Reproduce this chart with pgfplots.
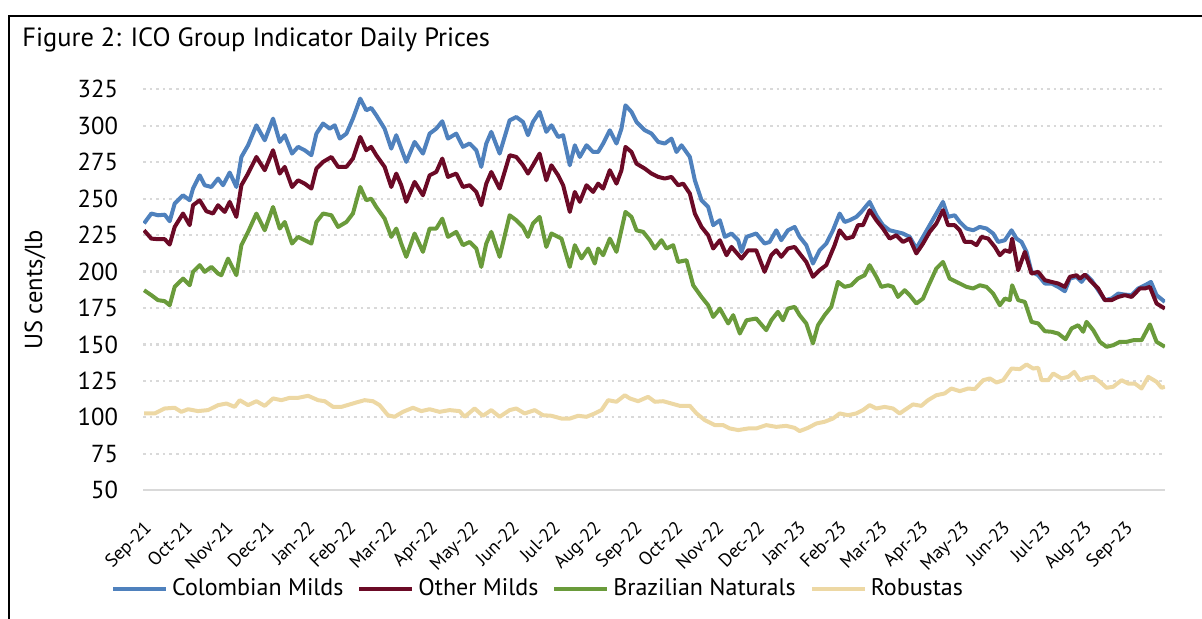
\documentclass[border=0pt]{standalone}
\usepackage{fontspec}
\setmainfont{PT Sans}
\usepackage{pgfplots}
\pgfplotsset{compat=1.18}
\definecolor{cmblue}{HTML}{4F81BD}
\definecolor{ommaroon}{HTML}{6B0A26}
\definecolor{bngreen}{HTML}{6A9B3B}
\definecolor{rbbeige}{HTML}{EDD8A4}
\definecolor{gridgray}{HTML}{D9D9D9}
\begin{document}
\begin{tikzpicture}
\path[use as bounding box] (0,0) rectangle (601pt,309.5pt);
\draw[line width=1pt] (4.5pt,0) -- (4.5pt,301.5pt) -- (601pt,301.5pt);
\node[anchor=base west, font=\fontsize{13.2}{15}\selectfont, inner sep=0pt] at (11pt,286pt) {Figure 2: ICO Group Indicator Daily Prices};
\begin{axis}[
  at={(71.5pt,64.35pt)}, anchor=south west,
  scale only axis, width=511pt, height=200.5pt,
  xmin=0, xmax=25, ymin=50, ymax=325,
  axis x line*=bottom, axis y line*=left,
  x axis line style={draw=gridgray, line width=1.1pt, -},
  y axis line style={draw=none},
  major tick length=0pt,
  xtick={0,...,24},
  xticklabels={Sep-21,Oct-21,Nov-21,Dec-21,Jan-22,Feb-22,Mar-22,Apr-22,May-22,Jun-22,Jul-22,Aug-22,Sep-22,Oct-22,Nov-22,Dec-22,Jan-23,Feb-23,Mar-23,Apr-23,May-23,Jun-23,Jul-23,Aug-23,Sep-23},
  ytick={50,75,...,325},
  ymajorgrids,
  major grid style={draw=gridgray, line width=1.1pt, dash pattern=on 1.3pt off 2pt},
  /pgf/number format/assume math mode=true,
  tick label style={font=\fontsize{12.3}{14}\selectfont},
  xticklabel style={xshift=0pt, yshift=-13pt, rotate=45, anchor=north east, inner sep=1pt, font=\fontsize{9.3}{10}\selectfont},
  yticklabel style={anchor=east, xshift=-9pt},
  ylabel={US cents/lb},
  every axis y label/.style={at={(axis description cs:-0.1057,0.5)}, rotate=90, anchor=center, font=\fontsize{12.3}{14}\selectfont},
  legend columns=4,
  legend style={at={(0.3875,-0.245)}, anchor=center, draw=none, fill=none,
    font=\fontsize{12}{14}\selectfont,
    /tikz/every even column/.append style={column sep=5pt}},
  legend image code/.code={\draw[#1, line width=2pt] (0pt,0pt) -- (26.5pt,0pt);},
  every axis plot/.append style={line width=2pt, line join=round},
]
\addplot[cmblue] coordinates {
(0.025,233) (0.204,239.8) (0.367,238.6) (0.531,239) (0.653,234.5) (0.775,246.6) (0.979,252.3) (1.142,248.9) (1.224,256.9) (1.387,266) (1.509,259.2) (1.672,258) (1.836,263.8) (1.958,259.2) (2.121,267.9) (2.284,258) (2.407,278.6) (2.57,286.6) (2.774,300.3) (2.978,290) (3.181,304.9) (3.345,288.9) (3.467,293.5) (3.646,280.9) (3.793,285.5) (3.956,283.2) (4.119,279.8) (4.242,294.6) (4.405,301.5) (4.568,298) (4.69,300.3) (4.813,291.2) (4.976,294.6)
(5.135,304.9) (5.314,318.6) (5.461,310.6) (5.583,312.2) (5.706,307.2) (5.91,298) (6.073,284.3) (6.195,293.5) (6.317,284.3) (6.44,275.2) (6.644,288.9) (6.848,280.9) (7.011,294.6) (7.174,298) (7.321,303.1) (7.459,291.2) (7.663,294.6) (7.826,285.5) (7.99,287.8) (8.153,283.2) (8.275,271.8) (8.397,287.8) (8.52,295.8) (8.724,280.9) (8.968,303.7) (9.131,306) (9.295,302.6) (9.417,293.5) (9.539,302.6) (9.702,309.5) (9.866,295.8)
(9.99,300.3) (10.155,292.3) (10.277,293.5) (10.44,272.9) (10.563,286.6) (10.685,278.6) (10.848,286.6) (11.011,282) (11.133,282) (11.256,287.8) (11.419,296.9) (11.582,287.8) (11.704,298) (11.802,314) (11.949,309.5) (12.072,302.6) (12.275,296.9) (12.439,294.6) (12.602,288.9) (12.765,287.8) (12.928,291.2) (13.05,282) (13.173,286.6) (13.377,278.6) (13.499,262.6) (13.662,248.9) (13.825,244.3) (13.948,231.8) (14.111,235.2) (14.233,223.8) (14.396,226.1) (14.559,221.5) (14.641,213.5) (14.763,223.8)
(15.0,226.1) (15.205,219.2) (15.328,220.3) (15.491,228.3) (15.613,221.5) (15.776,228.3) (15.94,230.6) (16.062,223.8) (16.225,218.1) (16.388,205.5) (16.551,214.6) (16.714,219.2) (16.878,228.3) (17.041,239.8) (17.163,234) (17.285,235.2) (17.449,237.5) (17.571,240.9) (17.775,247.8) (17.938,238.6) (18.101,231.8) (18.264,228.3) (18.427,227.2) (18.59,226.1) (18.754,223.8) (18.917,215.8) (19.08,223.8) (19.243,231.8) (19.406,239.8) (19.569,247.8) (19.692,237.5) (19.855,238.6)
(19.98,234) (20.144,229.5) (20.307,228.3) (20.47,230.6) (20.633,229.5) (20.796,226.1) (20.919,220.3) (21.082,221.5) (21.245,228.3) (21.367,222.6) (21.49,220.3) (21.612,213.5) (21.734,199.8) (21.898,197.5) (22.061,191.8) (22.224,191.8) (22.387,189.5) (22.55,186.5) (22.672,195.2) (22.836,196.4) (22.958,192.9) (23.08,197.5) (23.203,194.1) (23.366,187.2) (23.529,180.4) (23.692,181.5) (23.855,184.9) (24.018,184.2) (24.181,183.8) (24.345,188.4) (24.508,190.6) (24.655,192.9) (24.793,183.8) (24.997,179.2)
};
\addlegendentry{Colombian Milds}
\addplot[ommaroon] coordinates {
(0.025,228.3) (0.204,222.6) (0.367,222.2) (0.531,222.2) (0.653,218.5) (0.775,230.6) (0.979,239.8) (1.142,231.8) (1.224,245.5) (1.387,248.9) (1.55,241.4) (1.713,239.8) (1.836,245.5) (1.999,240.9) (2.121,247.8) (2.284,237.5) (2.407,259.2) (2.57,267.2) (2.774,278.6) (2.978,269.5) (3.181,283.2) (3.345,267.2) (3.467,271.8) (3.646,258) (3.793,262.6) (3.956,260.3) (4.119,256.9) (4.242,270.6) (4.405,275.2) (4.609,278.6) (4.772,271.8) (4.976,271.8)
(5.135,277.5) (5.314,292.3) (5.461,283.2) (5.583,285.5) (5.706,279.8) (5.91,271.8) (6.073,258) (6.195,267.2) (6.317,259.2) (6.44,247.8) (6.644,261.5) (6.848,252.3) (7.011,266) (7.174,268.3) (7.321,277.5) (7.459,264.9) (7.663,267.2) (7.826,258) (7.99,259.2) (8.153,254.6) (8.275,245.5) (8.397,260.3) (8.52,268.3) (8.724,256.9) (8.968,279.8) (9.131,278.6) (9.295,272.9) (9.417,267.2) (9.539,272.9) (9.702,280.9) (9.866,262.6)
(9.99,272.9) (10.155,266) (10.277,259.2) (10.44,240.9) (10.563,254.6) (10.685,247.8) (10.848,259.2) (11.011,254.6) (11.133,260.3) (11.256,256.9) (11.419,269.5) (11.582,260.3) (11.704,269.5) (11.802,285.5) (11.949,282) (12.072,274) (12.275,270.6) (12.439,267.2) (12.602,264.9) (12.765,263.8) (12.928,264.9) (13.091,259.2) (13.214,260.3) (13.377,253.5) (13.499,239.8) (13.662,230.6) (13.825,224.9) (13.948,215.8) (14.111,221.5) (14.274,211.2) (14.396,216.9) (14.641,208.9) (14.804,214.6)
(15.0,214.6) (15.205,199.8) (15.369,211.2) (15.491,214.6) (15.613,210.1) (15.776,215.8) (15.94,216.9) (16.062,212.4) (16.225,206.6) (16.388,196.4) (16.551,201) (16.714,204.4) (16.918,218.1) (17.041,228.3) (17.204,222.6) (17.367,223.8) (17.489,231.8) (17.612,231.8) (17.775,242.1) (17.938,235.2) (18.101,229.5) (18.264,222.6) (18.427,224.9) (18.59,220.3) (18.754,222.6) (18.917,212.4) (19.08,219.2) (19.243,227.2) (19.406,232.9) (19.569,242.1) (19.692,231.8) (19.855,231.8)
(19.98,228.3) (20.103,220.3) (20.266,220.3) (20.389,218.1) (20.511,223.8) (20.674,222.6) (20.837,216.9) (20.96,211.2) (21.082,214.6) (21.204,213.5) (21.261,222.6) (21.408,200.9) (21.571,213.5) (21.734,198.6) (21.898,199.8) (22.061,194.1) (22.224,192.9) (22.387,191.8) (22.55,189.5) (22.672,196.4) (22.836,197.5) (22.917,195.2) (23.04,197.9) (23.203,192.9) (23.366,188.4) (23.529,180.4) (23.692,180.4) (23.855,182.6) (24.018,183.8) (24.181,182.6) (24.386,188.4) (24.508,188.4) (24.63,189.5) (24.793,178.1) (24.997,174.6)
};
\addlegendentry{Other Milds}
\addplot[bngreen] coordinates {
(0.025,187.2) (0.204,183.8) (0.367,180.4) (0.531,179.7) (0.653,176.9) (0.775,189.5) (0.979,195.2) (1.142,190.6) (1.224,199.8) (1.387,204.4) (1.509,199.8) (1.672,203.2) (1.836,198.6) (1.917,197.5) (2.08,208.9) (2.284,197.5) (2.407,218.1) (2.57,227.2) (2.774,239.8) (2.978,228.3) (3.181,244.3) (3.345,229.5) (3.467,234) (3.646,219.2) (3.793,223.8) (3.956,221.5) (4.119,219.2) (4.242,234) (4.405,239.8) (4.609,238.6) (4.772,230.6) (4.976,234)
(5.135,239.8) (5.314,258) (5.461,248.9) (5.583,250) (5.706,244.3) (5.91,236.3) (6.073,223.8) (6.195,229.5) (6.317,219.2) (6.44,210.1) (6.644,226.1) (6.848,213.5) (7.011,229.5) (7.174,229.5) (7.321,236.3) (7.459,223.8) (7.663,227.2) (7.826,218.1) (7.99,220.3) (8.153,215.8) (8.275,203.2) (8.397,219.2) (8.52,227.2) (8.724,210.1) (8.968,238.6) (9.131,235.2) (9.295,230.6) (9.417,223.8) (9.539,232.9) (9.702,237.5) (9.866,216.9)
(9.99,226.1) (10.236,222.6) (10.44,203.2) (10.563,218.1) (10.726,209) (10.889,215.8) (11.052,205.5) (11.133,215.8) (11.256,211.2) (11.419,222.6) (11.582,213.5) (11.802,240.9) (11.949,237.5) (12.072,228.3) (12.235,227.2) (12.398,221.5) (12.52,215.8) (12.683,221.5) (12.806,215.8) (12.969,218.1) (13.091,206.6) (13.295,207.8) (13.458,190.6) (13.662,182.6) (13.825,176.9) (13.948,168.9) (14.111,174.6) (14.315,164.4) (14.437,170.1) (14.6,157.5) (14.763,166.6)
(15.0,167.8) (15.246,159.8) (15.369,166.6) (15.532,172.4) (15.654,166.6) (15.776,174.6) (15.94,175.8) (16.062,170.1) (16.225,164.4) (16.388,150.7) (16.511,163.2) (16.674,170.1) (16.837,175.8) (17.0,192.9) (17.163,189.5) (17.326,190.6) (17.489,195.2) (17.652,197.5) (17.775,204.4) (17.938,196.4) (18.06,189.5) (18.224,190.6) (18.346,189.5) (18.468,182.6) (18.631,187.2) (18.754,183.8) (18.917,178.1) (19.08,181.5) (19.202,189.5) (19.406,202.1) (19.569,206.6) (19.732,195.2) (19.896,192.9)
(19.98,191.8) (20.144,189.5) (20.307,188.4) (20.47,190.6) (20.633,189.5) (20.796,184.9) (20.96,176.9) (21.082,181.5) (21.204,180.4) (21.261,190.6) (21.408,180.4) (21.571,179.2) (21.734,165.5) (21.898,164.4) (22.061,159.1) (22.224,158.7) (22.387,157.5) (22.567,153.6) (22.714,161) (22.877,163.2) (22.999,158.7) (23.08,165.5) (23.244,159.8) (23.407,151.8) (23.57,148.4) (23.733,149.5) (23.896,151.8) (24.059,151.8) (24.222,152.9) (24.426,152.9) (24.63,163.7) (24.793,151.8) (24.997,148.4)
};
\addlegendentry{Brazilian Naturals}
\addplot[rbbeige] coordinates {
(0.025,102.7) (0.286,102.7) (0.531,106.1) (0.775,106.6) (0.938,103.8) (1.101,105.6) (1.346,104.3) (1.591,105) (1.836,108.4) (2.04,109.5) (2.243,107.2) (2.366,111.8) (2.57,108.4) (2.774,111.1) (2.978,107.9) (3.181,113) (3.385,111.8) (3.589,113.4) (3.793,113.4) (4.038,114.8) (4.283,111.8) (4.446,111.1) (4.65,107.2) (4.854,107.2)
(5.216,110.2) (5.42,111.8) (5.624,111.1) (5.787,108.4) (5.991,101.5) (6.154,100.4) (6.358,103.8) (6.603,106.6) (6.807,104.3) (7.011,105.6) (7.255,103.8) (7.5,105) (7.745,104.3) (7.867,100.4) (8.112,106.1) (8.316,101.1) (8.52,105) (8.724,100.4) (8.968,105) (9.131,106.1) (9.335,102.7) (9.58,105) (9.784,101.5)
(9.99,101.1) (10.236,99.2) (10.44,99.2) (10.644,101.1) (10.848,100.4) (11.052,102.7) (11.215,105) (11.378,111.8) (11.582,110.7) (11.786,115.2) (11.908,113) (12.112,111.1) (12.357,114.1) (12.52,110.7) (12.724,111.1) (12.928,109.5) (13.132,107.9) (13.377,107.9) (13.54,102.7) (13.744,98.1) (13.988,94.7) (14.192,94.7) (14.355,92.4) (14.559,91.3) (14.804,92.4)
(15.0,92.4) (15.246,94.7) (15.491,93.5) (15.736,94.2) (15.94,92.8) (16.062,90.6) (16.266,92.8) (16.47,95.8) (16.674,97) (16.878,99.2) (17.041,102.7) (17.245,101.5) (17.449,102.7) (17.612,105) (17.775,108.4) (17.938,106.1) (18.142,107.2) (18.346,106.1) (18.509,102.7) (18.713,106.6) (18.835,108.9) (19.039,107.9) (19.202,111.8) (19.406,115.2) (19.61,116.4) (19.773,119.8)
(19.98,118) (20.185,119.8) (20.348,119.4) (20.552,125.5) (20.715,126.7) (20.878,123.9) (21.041,125.5) (21.245,133.5) (21.449,133.1) (21.612,136.3) (21.775,133.5) (21.898,134) (21.98,125.5) (22.143,125.5) (22.265,130.1) (22.469,126.7) (22.632,127.8) (22.779,131.2) (22.917,125.5) (23.08,127.1) (23.244,127.8) (23.407,124.4) (23.57,120.3) (23.733,121) (23.937,125.5) (24.1,123.2) (24.263,123.2) (24.426,119.8) (24.59,127.8) (24.793,124.4) (24.916,120.3) (24.997,121)
};
\addlegendentry{Robustas}
\end{axis}
\end{tikzpicture}
\end{document}
